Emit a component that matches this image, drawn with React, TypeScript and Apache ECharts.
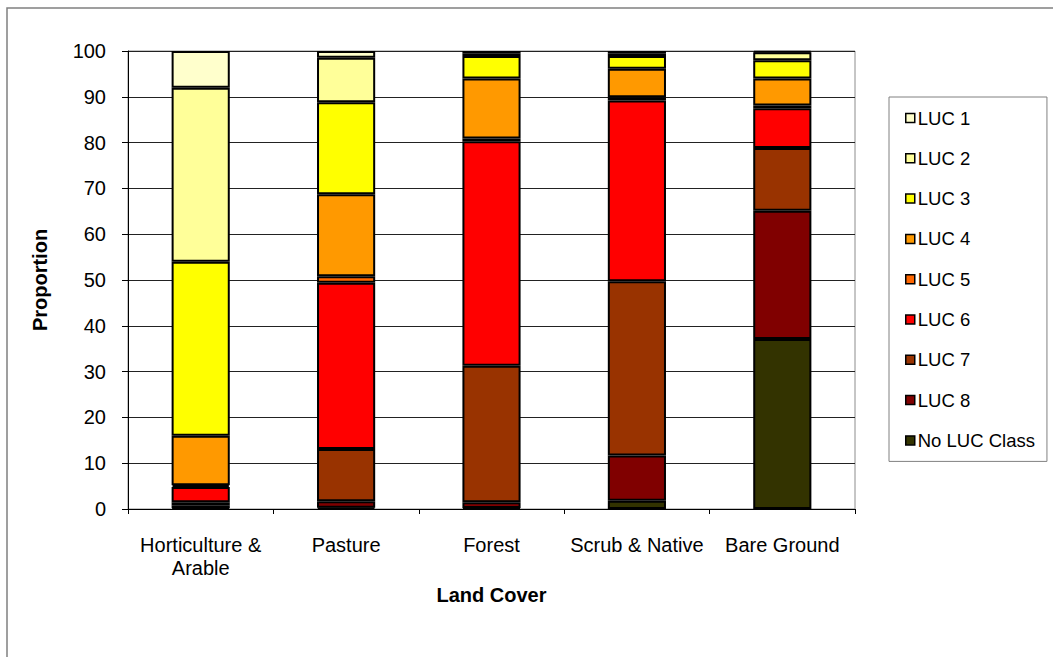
import React, { useEffect, useRef } from "react";
import * as echarts from "echarts";

const categories = ["Horticulture &\nArable", "Pasture", "Forest", "Scrub & Native", "Bare Ground"];
const yTicks = [0, 10, 20, 30, 40, 50, 60, 70, 80, 90, 100];

const noLuc = [0.2, 0.3, 0.2, 1.8, 37.1];
const luc8 = [0.5, 1.4, 1.3, 9.9, 28.0];
const luc7 = [0.8, 11.4, 29.8, 38.0, 13.7];
const luc6 = [3.3, 36.3, 49.0, 39.5, 8.7];
const luc5 = [0.4, 1.4, 0.6, 0.7, 0.6];
const luc4 = [10.8, 17.9, 13.1, 6.2, 5.9];
const luc3 = [38.0, 20.1, 4.9, 2.8, 4.0];
const luc2 = [38.0, 9.7, 0.6, 0.5, 1.7];
const luc1 = [8.0, 1.5, 0.5, 0.6, 0.3];

const seriesNames = ["No LUC Class", "LUC 8", "LUC 7", "LUC 6", "LUC 5", "LUC 4", "LUC 3", "LUC 2", "LUC 1"];
const seriesData = [noLuc, luc8, luc7, luc6, luc5, luc4, luc3, luc2, luc1];
const seriesColors = ["#333300", "#800000", "#993300", "#FF0000", "#FF6600", "#FF9900", "#FFFF00", "#FFFF99", "#FFFFCC"];
const legendOrder = ["LUC 1", "LUC 2", "LUC 3", "LUC 4", "LUC 5", "LUC 6", "LUC 7", "LUC 8", "No LUC Class"];

const FONT = "'Liberation Sans', Arial, sans-serif";

export default function App() {
  const ref = useRef<HTMLDivElement>(null);
  useEffect(() => {
    if (!ref.current) return;
    const chart = echarts.init(ref.current, undefined, { renderer: "svg" });
    chart.setOption({
      animation: false,
      backgroundColor: "#ffffff",
      textStyle: { fontFamily: FONT },
      graphic: [
        {
          type: "rect",
          shape: { x: 7, y: 8, width: 1200, height: 800 },
          style: { fill: "none", stroke: "#808080", lineWidth: 1.5 },
          silent: true,
          z: -10,
        },
      ],
      grid: {
        left: 128,
        top: 51,
        right: 198,
        bottom: 148,
        show: true,
        borderColor: "#8c8c8c",
        borderWidth: 1,
      },
      legend: {
        orient: "vertical",
        left: 889,
        top: 97,
        data: legendOrder,
        itemWidth: 9,
        itemHeight: 9,
        itemGap: 20.3,
        padding: [11, 12, 11, 16],
        borderColor: "#808080",
        borderWidth: 1,
        icon: "rect",
        itemStyle: { borderColor: "#000", borderWidth: 1.5 },
        textStyle: { fontFamily: FONT, fontSize: 18.5, color: "#000", lineHeight: 20, padding: [0, 0, 0, -2] },
      },
      xAxis: {
        type: "category",
        data: categories,
        name: "Land Cover",
        nameLocation: "middle",
        nameGap: 76,
        nameTextStyle: { fontFamily: FONT, fontSize: 20, fontWeight: "bold", color: "#000", verticalAlign: "top" },
        axisLine: { lineStyle: { color: "#000", width: 1 } },
        axisTick: { show: true, length: 5, lineStyle: { color: "#000" } },
        axisLabel: { fontFamily: FONT, fontSize: 20, color: "#000", margin: 24, lineHeight: 23, interval: 0 },
      },
      yAxis: {
        type: "value",
        min: yTicks[0],
        max: yTicks[yTicks.length - 1],
        interval: 10,
        name: "Proportion",
        nameLocation: "middle",
        nameGap: 78,
        nameTextStyle: { fontFamily: FONT, fontSize: 20, fontWeight: "bold", color: "#000" },
        axisLine: { show: true, lineStyle: { color: "#000", width: 1 } },
        axisTick: { show: true, length: 6, lineStyle: { color: "#000" } },
        axisLabel: { fontFamily: FONT, fontSize: 20, color: "#000", margin: 22 },
        splitLine: { show: true, lineStyle: { color: "#222", width: 1 } },
      },
      series: seriesNames.map((name, i) => ({
        name,
        type: "bar",
        stack: "total",
        barWidth: "40%",
        data: seriesData[i],
        itemStyle: { color: seriesColors[i], borderColor: "#000", borderWidth: 2 },
      })),
    });
    return () => chart.dispose();
  }, []);
  return <div ref={ref} style={{ position: "fixed", left: 0, top: 0, width: 1053, height: 657 }} />;
}
